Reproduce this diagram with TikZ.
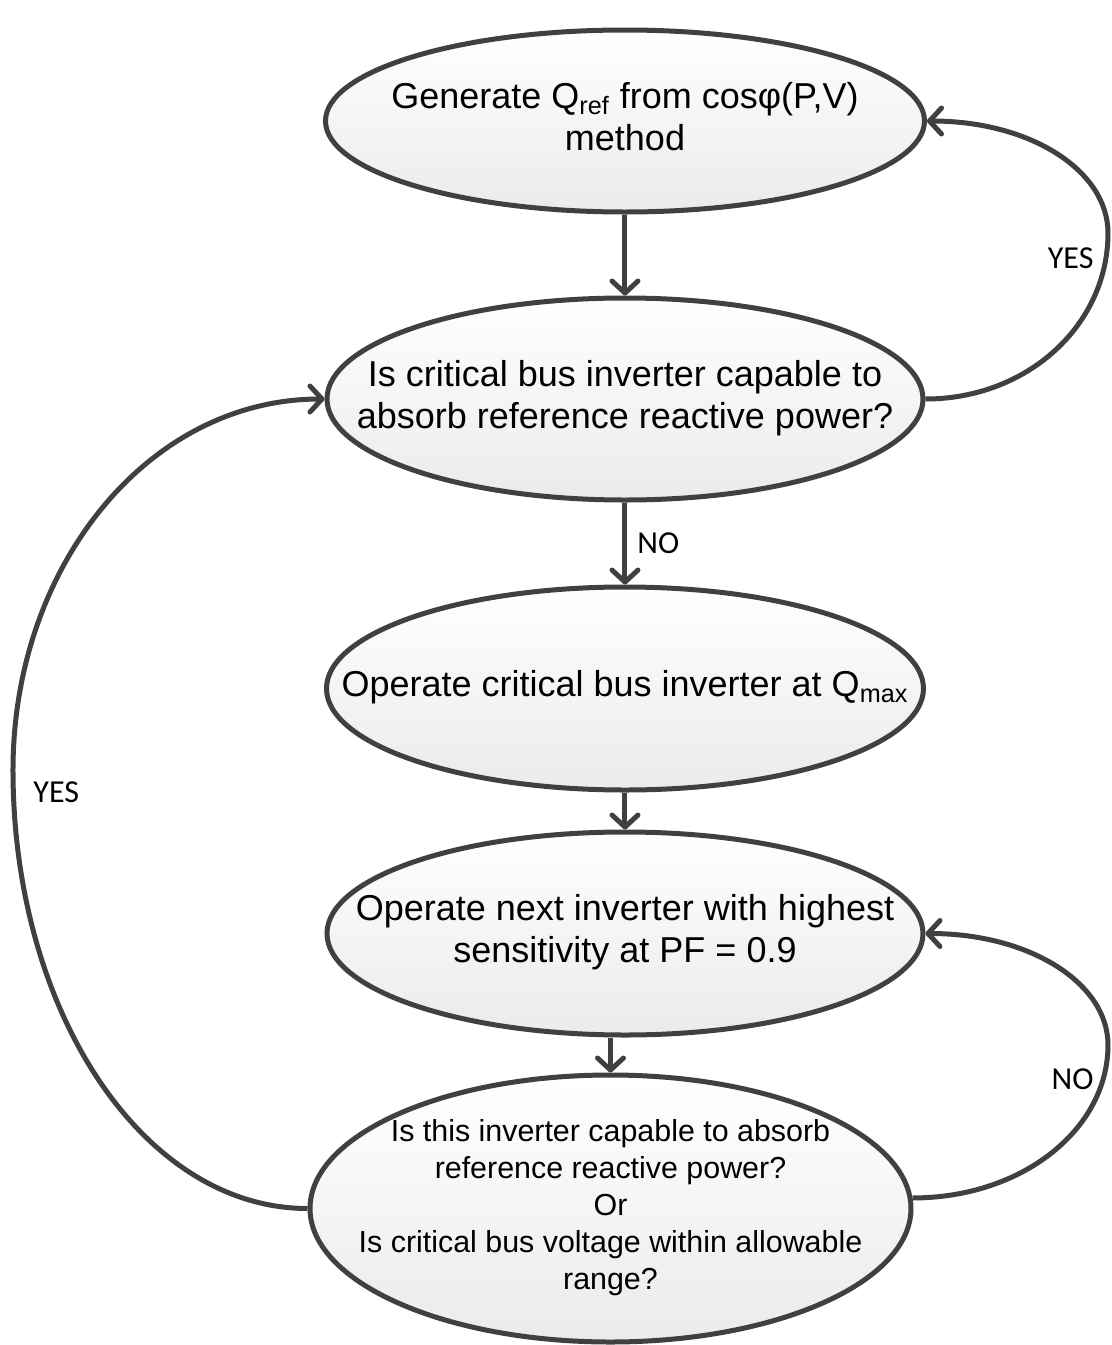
\documentclass[tikz,border=0pt]{standalone}
\usepackage{fontspec}
\setmainfont{Liberation Sans}
\newfontfamily\labelfont{Carlito}
\usetikzlibrary{shapes.geometric,arrows.meta,positioning}
\definecolor{linegray}{HTML}{404040}
% text of zero width, so the ellipse keeps its own size
\newcommand{\ovaltext}[1]{\makebox[0pt]{\begin{tabular}{@{}c@{}}#1\end{tabular}}}
\tikzset{
    %Define standard arrow tip
    >={Straight Barb[length=6pt,width=13pt,round]},
    %Define style for ellipses
    block/.style={
           ellipse,
           draw=linegray,
           line width=2.5pt,
           top color=white,
           bottom color=black!8,
           inner sep=0pt,
           font=\fontsize{18}{21}\selectfont},
    % Define arrow style
    arrow/.style={
           ->,
           draw=linegray,
           line width=2.5pt,
           },
    % Define style for branch labels
    answer/.style={
           font=\labelfont\fontsize{16}{19}\selectfont,
           inner sep=2pt}
}

\begin{document}
\begin{tikzpicture}[node distance = 137.5pt]
    \useasboundingbox (-312.5pt,60.5pt) rectangle (243.5pt,-612pt);
    \node [block, minimum width=299.5pt, minimum height=91pt] (gen) {\ovaltext{Generate Q\textsubscript{ref} from cosφ(P,V)\\method}};
    \node [block, below of=gen, node distance=139pt, minimum width=298pt, minimum height=101pt] (check) {\ovaltext{Is critical bus inverter capable to\\absorb reference reactive power?}};
    \node [block, below of=check, node distance=144.75pt, minimum width=298.5pt, minimum height=101.5pt] (qmax) {\ovaltext{Operate critical bus inverter at Q\textsubscript{max}}};
    \node [block, below of=qmax, node distance=122.5pt, minimum width=298pt, minimum height=101.5pt] (nextinv) {\ovaltext{Operate next inverter with highest\\sensitivity at PF = 0.9}};
    \node [block, below of=nextinv, node distance=137.5pt, xshift=-7.25pt, minimum width=300.5pt, minimum height=133.5pt,
           font=\fontsize{15.2}{18.5}\selectfont] (verify) {\ovaltext{Is this inverter capable to absorb\\reference reactive power?\\Or\\Is critical bus voltage within allowable\\range?}};

    \coordinate (yesright) at (241.5pt,-56pt);
    \coordinate (yesleft) at (-306pt,-324.5pt);
    \coordinate (noright) at (241.5pt,-462pt);

    \draw[arrow] (gen) -- (check);
    \draw[arrow] (check) -- node[answer, right, xshift=3pt] {NO} (qmax);
    \draw[arrow] (qmax) -- (nextinv);
    \draw[arrow] (nextinv.south -| verify.north) -- (verify.north);

    \draw[arrow] (check.east) .. controls +(51pt,0pt) and +(0pt,-46pt) .. (yesright)
        node[answer, left, xshift=-4pt, yshift=-12.5pt] {YES}
        .. controls +(0pt,31pt) and +(52pt,0pt) .. (gen.east);
    \draw[arrow] (verify.west) .. controls +(-82pt,0pt) and +(0pt,-121pt) .. (yesleft)
        node[answer, right, xshift=7pt, yshift=-11pt] {YES}
        .. controls +(0pt,102pt) and +(-88pt,0pt) .. (check.west);
    \draw[arrow] (verify.2) .. controls +(55pt,0pt) and +(0pt,-42pt) .. (noright)
        node[answer, left, xshift=-4pt, yshift=-17pt] {NO}
        .. controls +(0pt,31pt) and +(52pt,0pt) .. (nextinv.east);
\end{tikzpicture}
\end{document}
